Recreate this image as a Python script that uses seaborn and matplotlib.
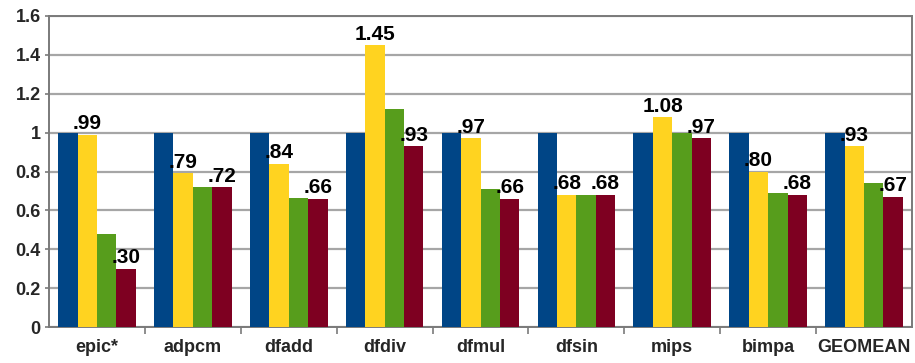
import matplotlib
matplotlib.use("Agg")
import matplotlib.pyplot as plt
import matplotlib.ticker as mticker
import seaborn as sns
import pandas as pd
import numpy as np

# Normalized results per benchmark (baseline = 1)
benchmarks = ["epic*", "adpcm", "dfadd", "dfdiv", "dfmul", "dfsin", "mips", "bimpa", "GEOMEAN"]
baseline = [1.00, 1.00, 1.00, 1.00, 1.00, 1.00, 1.00, 1.00, 1.00]
variant_a = [0.99, 0.79, 0.84, 1.45, 0.97, 0.68, 1.08, 0.80, 0.93]
variant_b = [0.48, 0.72, 0.665, 1.12, 0.71, 0.68, 1.00, 0.69, 0.74]
variant_c = [0.30, 0.72, 0.66, 0.93, 0.66, 0.68, 0.97, 0.68, 0.67]

series_names = ["baseline", "variant_a", "variant_b", "variant_c"]
series_values = [baseline, variant_a, variant_b, variant_c]
palette = ["#004586", "#ffd320", "#579d1c", "#7e0021"]

rows = []
for name, vals in zip(series_names, series_values):
    for b, v in zip(benchmarks, vals):
        rows.append({"benchmark": b, "series": name, "value": v})
df = pd.DataFrame(rows)

sns.set_theme(style="white")
plt.rcParams["font.family"] = ["Liberation Sans", "DejaVu Sans"]
plt.rcParams["font.weight"] = "bold"

fig = plt.figure(figsize=(9.15, 3.63), dpi=100)
ax = fig.add_axes([49 / 915, 1 - 327 / 363, (912 - 49) / 915, (327 - 16) / 363])

sns.barplot(data=df, x="benchmark", y="value", hue="series", order=benchmarks,
            hue_order=series_names, palette=palette, width=0.81, gap=0,
            saturation=1, linewidth=0, ax=ax, legend=False, zorder=3)

def short(v):
    s = f"{v:.2f}"
    return s[1:] if s.startswith("0") else s

for idx in (1, 3):
    cont = ax.containers[idx]
    ax.bar_label(cont, labels=[short(v) for v in series_values[idx]],
                 padding=1, fontsize=15, fontweight="bold", color="black", zorder=5)

ax.set_ylim(0, 1.6)
ax.set_xlim(-0.5, len(benchmarks) - 0.5)
ax.yaxis.set_major_locator(mticker.MultipleLocator(0.2))
ax.yaxis.set_major_formatter(mticker.FuncFormatter(lambda v, p: f"{v:g}"))
ax.grid(axis="y", color="#a6a6a6", linewidth=1.6, zorder=0)
ax.set_axisbelow(True)

ax.set_xlabel("")
ax.set_ylabel("")
ax.tick_params(axis="x", which="major", length=0, pad=9, labelsize=13)
ax.xaxis.set_minor_locator(mticker.FixedLocator(np.arange(0.5, len(benchmarks) - 0.5, 1.0)))
ax.tick_params(axis="x", which="minor", length=5, width=1.2, color="#7a7a7a", direction="out", bottom=True)
ax.tick_params(axis="y", length=3, width=1.2, color="#7a7a7a", labelsize=13, pad=3, left=True)
for lab in ax.get_xticklabels() + ax.get_yticklabels():
    lab.set_fontweight("bold")

for side in ("left", "bottom", "right", "top"):
    ax.spines[side].set_visible(True)
    ax.spines[side].set_color("#7a7a7a")
    ax.spines[side].set_linewidth(1.4)

fig.savefig("out.png", dpi=100, facecolor="white")
